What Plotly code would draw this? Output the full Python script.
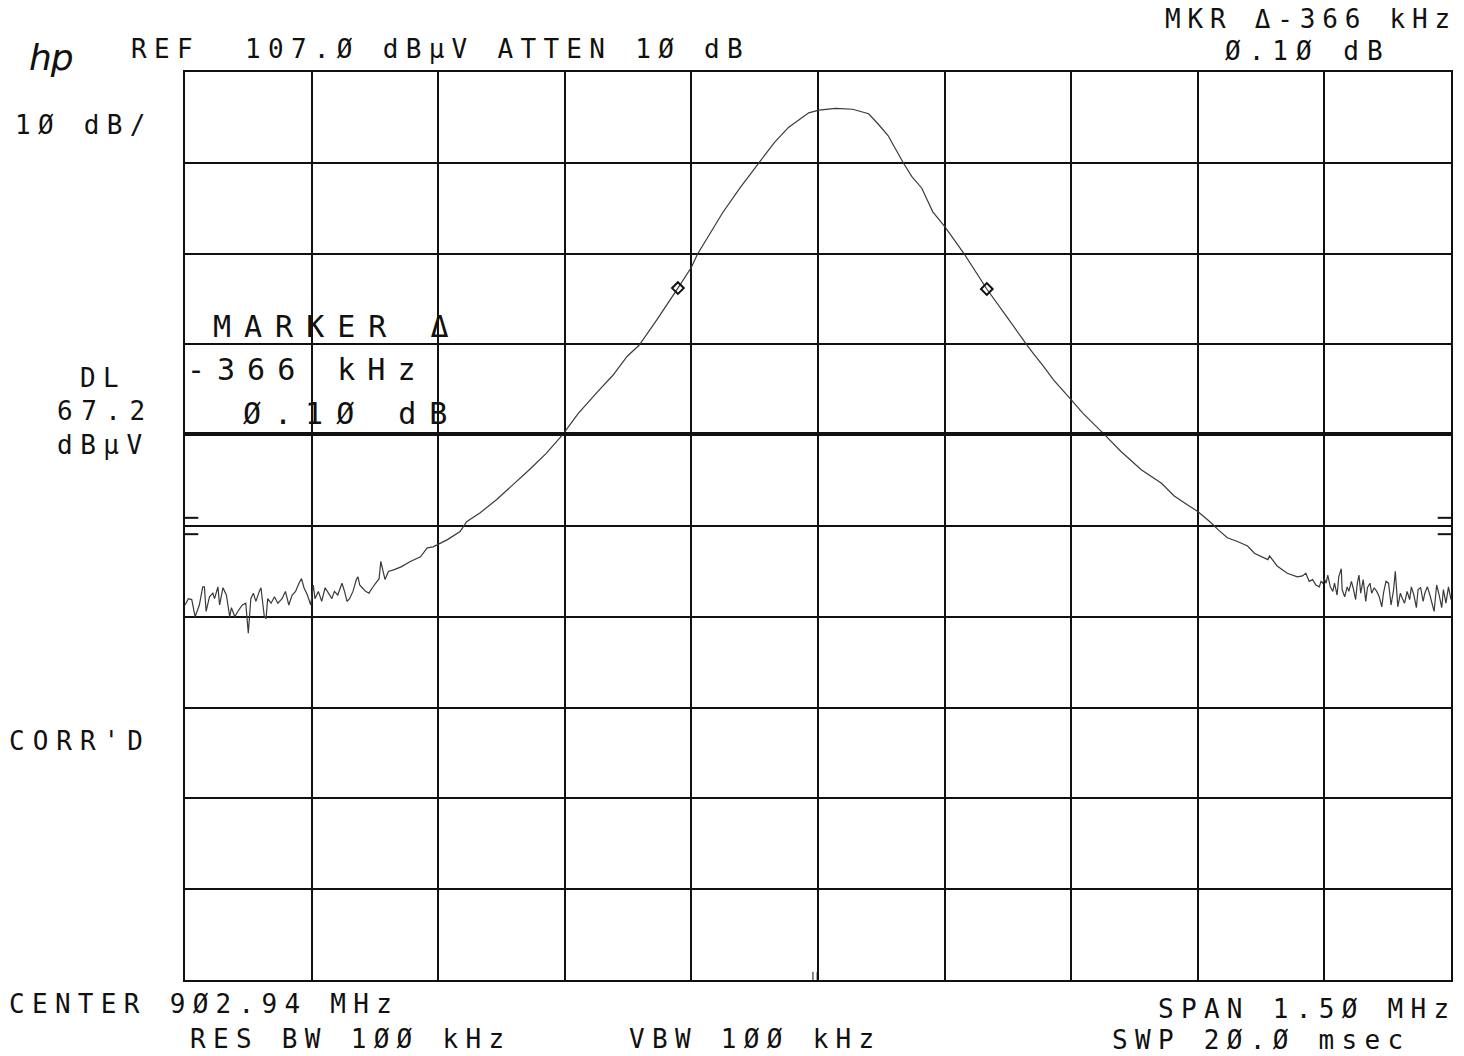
import numpy as np
import plotly.graph_objects as go

# Analyzer settings shown on the plot
CENTER_MHZ = 902.94
SPAN_MHZ = 1.50
REF_DBUV = 107.0
DB_PER_DIV = 10
N_DIV = 10
DISPLAY_LINE_DBUV = 67.2

# Swept trace: offset from center (kHz) and level (dBuV)
offset_khz = [
    -750, -746, -742, -738, -733, -729, -727, -725, -721, -717,
    -715, -711, -709, -705, -701, -697, -695, -691, -686, -682,
    -678, -675, -672, -669, -666, -662, -660, -656, -654, -652,
    -648, -644, -640, -635, -631, -627, -623, -619, -615, -612,
    -609, -605, -601, -598, -596, -592, -588, -584, -580, -576,
    -573, -569, -564, -561, -558, -555, -551, -547, -545, -543,
    -540, -536, -532, -528, -524, -520, -518, -513, -509, -502,
    -494, -483, -471, -463, -456, -439, -424, -416, -401, -381,
    -362, -342, -322, -303, -284, -261, -243, -226, -212, -191,
    -166, -150, -143, -113, -92, -70, -52, -35, -11, 1,
    21, 41, 60, 71, 83, 101, 111, 123, 136, 150,
    173, 200, 224, 247, 255, 267, 279, 298, 314, 338,
    359, 383, 407, 422, 438, 450, 464, 474, 485, 497,
    509, 517, 533, 535, 544, 556, 568, 574, 578, 582,
    586, 590, 594, 596, 598, 600, 602, 604, 607, 610,
    612, 615, 617, 620, 621, 624, 627, 629, 632, 634,
    637, 639, 641, 643, 646, 649, 651, 654, 656, 659,
    662, 665, 668, 670, 673, 676, 679, 682, 684, 687,
    690, 692, 695, 698, 701, 703, 706, 709, 711, 714,
    717, 719, 722, 725, 728, 730, 733, 736, 739, 741,
    744, 747, 750,
]
level_dbuv = [
    48.3, 49.0, 48.9, 47.0, 48.3, 50.3, 50.3, 47.6, 49.2, 49.6,
    49.0, 50.3, 48.3, 50.2, 49.4, 47.0, 48.0, 47.0, 47.8, 48.3,
    48.5, 45.2, 49.0, 49.6, 48.7, 49.8, 50.2, 47.0, 46.8, 49.0,
    48.5, 49.2, 48.5, 49.0, 49.8, 48.3, 49.4, 49.8, 50.7, 51.2,
    50.2, 49.4, 48.3, 50.5, 49.0, 49.8, 48.7, 50.2, 49.6, 49.0,
    49.8, 49.4, 50.7, 49.8, 48.7, 49.0, 49.8, 51.1, 51.4, 50.5,
    50.2, 49.8, 49.6, 50.2, 50.7, 51.2, 53.1, 51.1, 52.0, 52.2,
    52.5, 53.1, 53.6, 54.6, 54.7, 55.5, 56.4, 57.5, 58.4, 59.9,
    61.5, 63.2, 65.0, 67.0, 69.4, 71.8, 73.6, 75.7, 76.9, 79.7,
    83.2, 85.5, 86.9, 91.5, 94.3, 97.0, 99.2, 100.9, 102.5, 102.8,
    103.0, 102.9, 102.4, 101.3, 100.0, 97.0, 95.5, 94.2, 91.6, 90.0,
    87.0, 83.1, 80.0, 77.0, 76.0, 74.6, 73.1, 71.1, 69.4, 67.2,
    65.2, 63.2, 61.7, 60.3, 59.3, 58.6, 57.5, 56.6, 55.7, 55.3,
    54.8, 54.0, 53.3, 53.7, 52.6, 51.8, 51.4, 51.5, 51.8, 50.9,
    51.1, 50.5, 50.3, 50.9, 50.7, 51.2, 50.7, 51.6, 50.3, 49.8,
    50.7, 49.4, 51.4, 52.3, 50.0, 49.2, 50.3, 49.8, 50.9, 50.2,
    48.9, 50.7, 51.6, 49.6, 51.1, 48.7, 50.2, 50.7, 49.6, 50.2,
    49.8, 49.2, 48.1, 49.6, 50.9, 50.7, 48.3, 50.0, 52.0, 48.1,
    49.6, 49.1, 48.5, 49.8, 48.9, 50.3, 49.4, 48.0, 50.0, 50.2,
    48.7, 49.6, 50.3, 49.4, 48.3, 47.6, 50.5, 49.4, 48.0, 50.0,
    48.5, 50.3, 48.9,
]

# Reference marker and delta marker (-366 kHz, 0.10 dB)
marker_offset_khz = [200, -166]
marker_level_dbuv = [83.1, 83.2]

# Short edge ticks on both sides of the graticule and the center tick pair
edge_tick_dbuv = [57.9, 56.1]
center_tick_offset_khz = [-6, -1]

INK = "#111111"
PLOT_L, PLOT_T, PLOT_W, PLOT_H = 185, 72, 1268, 908
FIG_W, FIG_H = 1464, 1056

f_lo = CENTER_MHZ - SPAN_MHZ / 2
f_hi = CENTER_MHZ + SPAN_MHZ / 2
y_lo = REF_DBUV - N_DIV * DB_PER_DIV

freq_mhz = CENTER_MHZ + np.array(offset_khz) / 1000.0
mk_freq = CENTER_MHZ + np.array(marker_offset_khz) / 1000.0

fig = go.Figure()

fig.add_trace(go.Scatter(
    x=freq_mhz, y=level_dbuv, mode="lines",
    line=dict(color="#3a3a3a", width=1.2, simplify=False),
    hoverinfo="skip", showlegend=False,
))

fig.add_trace(go.Scatter(
    x=mk_freq, y=marker_level_dbuv, mode="markers",
    marker=dict(symbol="diamond-open", size=9, color=INK, line=dict(width=2, color=INK)),
    hoverinfo="skip", showlegend=False,
))

# Display line
fig.add_shape(type="line", xref="x", yref="y", x0=f_lo, x1=f_hi,
              y0=DISPLAY_LINE_DBUV, y1=DISPLAY_LINE_DBUV,
              line=dict(color=INK, width=3))

tick_len = SPAN_MHZ * 0.0105
for lvl in edge_tick_dbuv:
    fig.add_shape(type="line", xref="x", yref="y", x0=f_lo, x1=f_lo + tick_len,
                  y0=lvl, y1=lvl, line=dict(color=INK, width=2))
    fig.add_shape(type="line", xref="x", yref="y", x0=f_hi - tick_len, x1=f_hi,
                  y0=lvl, y1=lvl, line=dict(color=INK, width=2))
for off in center_tick_offset_khz:
    fx = CENTER_MHZ + off / 1000.0
    fig.add_shape(type="line", xref="x", yref="y", x0=fx, x1=fx,
                  y0=y_lo, y1=y_lo + 0.9, line=dict(color=INK, width=1))


def label(text, left_px, mid_px, size=26, spacing=7.3,
          family="DejaVu Sans Mono", style="normal"):
    fig.add_annotation(
        x=(left_px - PLOT_L) / PLOT_W, y=1 - (mid_px - PLOT_T) / PLOT_H,
        xref="paper", yref="paper", xanchor="left", yanchor="middle",
        align="left", showarrow=False, borderpad=0,
        text=f'<span style="letter-spacing:{spacing}px">{text}</span>',
        font=dict(family=family, size=size, color=INK, style=style),
    )


label("hp", 28, 58, size=36, spacing=-1, family="DejaVu Sans", style="italic")
label("REF", 130, 49)
label("107.Ø dBµV ATTEN 1Ø dB", 244, 49)
label("MKR Δ-366 kHz", 1166, 19, spacing=6.8)
label("Ø.1Ø dB", 1226, 51, spacing=8)
label("1Ø dB/", 14, 125)
label("DL", 79, 378)
label("67.2", 56, 411, spacing=8.5)
label("dBµV", 56, 445, spacing=7.5)
label("CORR'D", 8, 741, spacing=8)
label("MARKER Δ", 212, 326, size=30, spacing=13)
label("-366 kHz", 186, 369, size=30, spacing=12)
label("Ø.1Ø dB", 242, 413, size=30, spacing=13)
label("CENTER 9Ø2.94 MHz", 8, 1004)
label("RES BW 1ØØ kHz", 189, 1039)
label("VBW 1ØØ kHz", 629, 1039)
label("SPAN 1.5Ø MHz", 1159, 1009)
label("SWP 2Ø.Ø msec", 1112, 1040)

axis_common = dict(
    showgrid=True, gridcolor=INK, gridwidth=2,
    showline=True, linecolor=INK, linewidth=2, mirror=True,
    zeroline=False, showticklabels=False, ticks="", fixedrange=True,
)
fig.update_xaxes(range=[f_lo, f_hi], tick0=f_lo, dtick=SPAN_MHZ / N_DIV, **axis_common)
fig.update_yaxes(range=[y_lo, REF_DBUV], tick0=y_lo, dtick=DB_PER_DIV, **axis_common)

fig.update_layout(
    width=FIG_W, height=FIG_H, autosize=False,
    margin=dict(l=PLOT_L, r=FIG_W - PLOT_L - PLOT_W, t=PLOT_T, b=FIG_H - PLOT_T - PLOT_H, pad=0),
    paper_bgcolor="white", plot_bgcolor="white",
    showlegend=False,
)

fig.write_html("out.html", config={"displayModeBar": False, "staticPlot": True})
